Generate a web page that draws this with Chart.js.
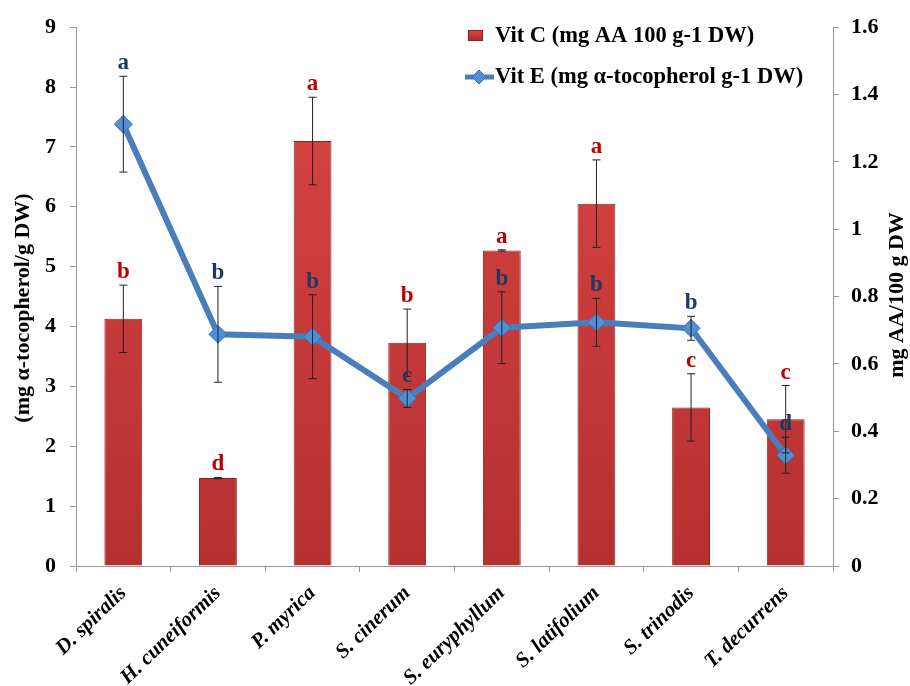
<!DOCTYPE html>
<html><head><meta charset="utf-8">
<script src="https://cdn.jsdelivr.net/npm/chart.js@4/dist/chart.umd.min.js"></script>
<style>html,body{margin:0;padding:0;background:#fff}</style>
</head><body>
<canvas id="c" width="910" height="686"></canvas>
<script>
// ---- data ----
const categories = ['D. spiralis','H. cuneiformis','P. myrica','S. cinerum','S. euryphyllum','S. latifolium','S. trinodis','T. decurrens'];
// Vit C (mg AA/100 g DW) – right axis
const vitC = [0.734, 0.261, 1.262, 0.663, 0.937, 1.076, 0.471, 0.436];
const vitCErr = [0.100, 0.002, 0.130, 0.100, 0.002, 0.130, 0.100, 0.100];
const vitCLetters = ['b','d','a','b','a','a','c','c'];
// Vit E (mg alpha-tocopherol/g DW) – left axis
const vitE = [7.38, 3.87, 3.83, 2.80, 3.98, 4.07, 3.97, 1.85];
const vitEErr = [0.80, 0.80, 0.70, 0.15, 0.60, 0.40, 0.20, 0.30];
const vitELetters = ['a','b','b','c','b','b','b','d'];
const leftTicks = [0,1,2,3,4,5,6,7,8,9];
const rightTicks = [0,0.2,0.4,0.6,0.8,1,1.2,1.4,1.6];
const legendLabels = ['Vit C (mg AA 100 g-1 DW)', 'Vit E (mg \u03b1-tocopherol g-1 DW)'];
const leftTitle = '(mg \u03b1-tocopherol/g DW)';
const rightTitle = 'mg AA/100 g DW';

const SERIF = '"Liberation Serif", "Times New Roman", serif';
const RED_TXT = '#C00000', BLUE_TXT = '#1F3864';
const LINE_COL = '#4A7EBB', MARK_COL = '#4F8FD8';

function barGradient(ctx) {
  const chart = ctx.chart; const a = chart.chartArea;
  if (!a) return '#D23B3B';
  const g = chart.ctx.createLinearGradient(0, a.top, 0, a.bottom);
  g.addColorStop(0, '#DC4646'); g.addColorStop(1, '#B43030');
  return g;
}

const extras = {
  id: 'extras',
  afterDatasetsDraw(chart) {
    const ctx = chart.ctx;
    const x = chart.scales.x, yL = chart.scales.y, yR = chart.scales.y1;
    ctx.save();
    ctx.strokeStyle = '#222'; ctx.lineWidth = 1;
    const drawErr = (cx, v, e, sc) => {
      const t = sc.getPixelForValue(v + e), b = sc.getPixelForValue(v - e);
      ctx.beginPath();
      ctx.moveTo(cx, t); ctx.lineTo(cx, b);
      ctx.moveTo(cx - 4, t); ctx.lineTo(cx + 4, t);
      ctx.moveTo(cx - 4, b); ctx.lineTo(cx + 4, b);
      ctx.stroke();
      return t;
    };
    ctx.font = 'bold 23px ' + SERIF;
    ctx.textAlign = 'center'; ctx.textBaseline = 'alphabetic';
    categories.forEach((c, i) => {
      const cx = x.getPixelForValue(i);
      const t1 = drawErr(cx, vitC[i], vitCErr[i], yR);
      const t2 = drawErr(cx, vitE[i], vitEErr[i], yL);
      ctx.fillStyle = RED_TXT; ctx.fillText(vitCLetters[i], cx, t1 - 7);
      ctx.fillStyle = BLUE_TXT; ctx.fillText(vitELetters[i], cx, t2 - 7);
    });
    ctx.restore();
  },
  afterDraw(chart) {
    const ctx = chart.ctx;
    ctx.save();
    ctx.fillStyle = '#000';
    ctx.font = 'bold 22px ' + SERIF;
    ctx.textAlign = 'center'; ctx.textBaseline = 'middle';
    // left title
    ctx.save(); ctx.translate(23, 308); ctx.rotate(-Math.PI / 2);
    ctx.fillText(leftTitle, 0, 0); ctx.restore();
    // right title
    ctx.save(); ctx.translate(897, 295); ctx.rotate(-Math.PI / 2);
    ctx.fillText(rightTitle, 0, 0); ctx.restore();
    // legend
    const g = ctx.createLinearGradient(0, 30, 0, 41);
    g.addColorStop(0, '#DC4646'); g.addColorStop(1, '#A82A2A');
    ctx.fillStyle = g; ctx.fillRect(468, 30, 15, 11);
    ctx.strokeStyle = '#8E2020'; ctx.lineWidth = 1; ctx.strokeRect(468.5, 30.5, 14, 10);
    ctx.strokeStyle = LINE_COL; ctx.lineWidth = 5;
    ctx.beginPath(); ctx.moveTo(465, 77); ctx.lineTo(494, 77); ctx.stroke();
    ctx.fillStyle = MARK_COL; ctx.strokeStyle = '#3C6EAA'; ctx.lineWidth = 1;
    ctx.beginPath(); ctx.moveTo(479, 70); ctx.lineTo(486, 77); ctx.lineTo(479, 84); ctx.lineTo(472, 77); ctx.closePath();
    ctx.fill(); ctx.stroke();
    ctx.fillStyle = '#000'; ctx.textAlign = 'left'; ctx.font = 'bold 22.5px ' + SERIF;
    ctx.fillText(legendLabels[0], 495, 36);
    ctx.fillText(legendLabels[1], 495, 77);
    ctx.restore();
  }
};

const fmt = v => String(Number(v.toFixed(1)));

new Chart(document.getElementById('c'), {
  data: {
    labels: categories,
    datasets: [
      {
        type: 'line', label: legendLabels[1], data: vitE, yAxisID: 'y', order: 0,
        borderColor: LINE_COL, borderWidth: 6, tension: 0,
        pointStyle: 'rectRot', pointRadius: 9, pointHoverRadius: 9,
        pointBackgroundColor: MARK_COL, pointBorderColor: '#3C6EAA', pointBorderWidth: 1
      },
      {
        type: 'bar', label: legendLabels[0], data: vitC, yAxisID: 'y1', order: 1,
        backgroundColor: barGradient, borderColor: '#8E2020', borderWidth: 1,
        categoryPercentage: 1, barPercentage: 0.4
      }
    ]
  },
  options: {
    responsive: false, animation: false,
    layout: { padding: { top: 26, left: 0, right: 0, bottom: 0 } },
    plugins: { legend: { display: false }, tooltip: { enabled: false } },
    scales: {
      x: {
        offset: true,
        grid: { display: true, drawOnChartArea: false, offset: true, tickLength: 6, color: '#999' },
        border: { color: '#999' },
        ticks: { color: '#000', font: { family: SERIF, weight: 'bold', style: 'italic', size: 21 },
                 minRotation: 44, maxRotation: 44, padding: 9, autoSkip: false },
        afterFit(s) { s.height = 120; }
      },
      y: {
        position: 'left', min: 0, max: 9,
        afterBuildTicks(s) { s.ticks = leftTicks.map(v => ({ value: v })); },
        ticks: { color: '#000', font: { family: SERIF, weight: 'bold', size: 22 }, padding: 14, callback: v => fmt(v) },
        grid: { drawOnChartArea: false, tickLength: 6, color: '#999' },
        border: { color: '#999' },
        afterFit(s) { s.width = 76; }
      },
      y1: {
        position: 'right', min: 0, max: 1.6,
        afterBuildTicks(s) { s.ticks = rightTicks.map(v => ({ value: v })); },
        ticks: { color: '#000', font: { family: SERIF, weight: 'bold', size: 22 }, padding: 12, callback: v => fmt(v) },
        grid: { drawOnChartArea: false, tickLength: 6, color: '#999' },
        border: { color: '#999' },
        afterFit(s) { s.width = 77; }
      }
    }
  },
  plugins: [extras]
});
</script>
</body></html>
